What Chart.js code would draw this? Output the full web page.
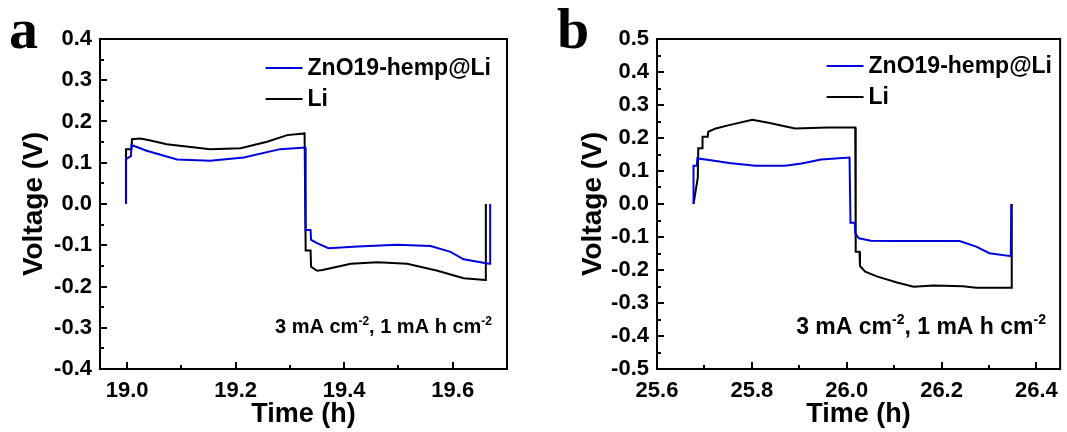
<!DOCTYPE html>
<html>
<head>
<meta charset="utf-8">
<script src="https://cdn.jsdelivr.net/npm/chart.js"></script>
<style>
  body { margin: 0; background: #fff; width: 1067px; height: 432px; position: relative; overflow: hidden; }
  canvas { position: absolute; top: 0; }
</style>
</head>
<body>
<canvas id="chartA" width="530" height="432" style="left:0px"></canvas>
<canvas id="chartB" width="532" height="432" style="left:535px"></canvas>
<script>
// series names
var seriesNames = ['ZnO19-hemp@Li', 'Li'];
var seriesColors = ['#0000dd', '#000000'];

// panel a - ZnO19-hemp@Li
var timeBlueA = [18.998, 18.998, 19.007, 19.008, 19.036, 19.092, 19.153, 19.215, 19.282, 19.328, 19.329, 19.338, 19.339, 19.350, 19.371, 19.425, 19.498, 19.559, 19.596, 19.620, 19.667, 19.669, 19.669];
var voltBlueA = [0.000, 0.109, 0.116, 0.143, 0.129, 0.108, 0.105, 0.113, 0.133, 0.137, -0.063, -0.063, -0.087, -0.095, -0.107, -0.103, -0.099, -0.102, -0.116, -0.134, -0.145, -0.145, 0.000];
// panel a - Li
var timeBlackA = [18.998, 18.998, 19.008, 19.009, 19.024, 19.039, 19.073, 19.153, 19.209, 19.258, 19.295, 19.327, 19.329, 19.338, 19.339, 19.350, 19.360, 19.412, 19.461, 19.516, 19.572, 19.620, 19.660, 19.661, 19.661];
var voltBlackA = [0.000, 0.133, 0.133, 0.157, 0.159, 0.155, 0.145, 0.133, 0.135, 0.151, 0.167, 0.171, -0.113, -0.113, -0.152, -0.162, -0.160, -0.145, -0.141, -0.145, -0.162, -0.180, -0.184, -0.184, 0.000];

// panel b - ZnO19-hemp@Li
var timeBlueB = [25.677, 25.677, 25.684, 25.685, 25.710, 25.752, 25.808, 25.870, 25.905, 25.946, 26.006, 26.008, 26.017, 26.018, 26.026, 26.051, 26.100, 26.238, 26.273, 26.301, 26.346, 26.347];
var voltBlueB = [0.000, 0.116, 0.116, 0.138, 0.133, 0.124, 0.116, 0.116, 0.123, 0.135, 0.141, -0.057, -0.057, -0.089, -0.104, -0.111, -0.112, -0.112, -0.129, -0.149, -0.158, 0.000];
// panel b - Li
var timeBlackB = [25.677, 25.686, 25.687, 25.695, 25.696, 25.707, 25.708, 25.724, 25.752, 25.801, 25.835, 25.891, 25.960, 26.018, 26.019, 26.027, 26.028, 26.039, 26.065, 26.106, 26.141, 26.183, 26.245, 26.273, 26.347, 26.348];
var voltBlackB = [0.000, 0.080, 0.169, 0.169, 0.204, 0.204, 0.219, 0.229, 0.239, 0.255, 0.246, 0.229, 0.232, 0.232, -0.145, -0.145, -0.188, -0.205, -0.220, -0.238, -0.251, -0.247, -0.249, -0.254, -0.254, 0.000];

// tick values
var ticksXA = [19.0, 19.2, 19.4, 19.6];
var ticksYA = [-0.4, -0.3, -0.2, -0.1, 0.0, 0.1, 0.2, 0.3, 0.4];
var ticksXB = [25.6, 25.8, 26.0, 26.2, 26.4];
var ticksYB = [-0.5, -0.4, -0.3, -0.2, -0.1, 0.0, 0.1, 0.2, 0.3, 0.4, 0.5];

var note = [['3 mA cm', false], ['-2', true], [', 1 mA h cm', false], ['-2', true]];
var FONT = '"Liberation Sans", Arial, sans-serif';

function minors(major, min, max) {
  var out = [];
  var step = major[1] - major[0];
  var all = [major[0] - step].concat(major).concat([major[major.length - 1] + step]);
  for (var i = 0; i < all.length - 1; i++) {
    var m = (all[i] + all[i + 1]) / 2;
    if (m > min + 1e-9 && m < max - 1e-9) out.push(m);
  }
  return out;
}

var decor = {
  id: 'decor',
  afterDraw: function(chart) {
    var o = chart.options.plugins.decor;
    var ctx = chart.ctx, a = chart.chartArea;
    var xs = chart.scales.x, ys = chart.scales.y;
    ctx.save();
    ctx.strokeStyle = '#000';
    ctx.lineWidth = 2;
    ctx.strokeRect(a.left, a.top, a.right - a.left, a.bottom - a.top);
    ctx.beginPath();
    o.xTicks.forEach(function(v) { var p = Math.round(xs.getPixelForValue(v)); ctx.moveTo(p, a.bottom); ctx.lineTo(p, a.bottom - 7); });
    minors(o.xTicks, xs.min, xs.max).forEach(function(v) { var p = Math.round(xs.getPixelForValue(v)); ctx.moveTo(p, a.bottom); ctx.lineTo(p, a.bottom - 4); });
    o.yTicks.forEach(function(v) { var p = Math.round(ys.getPixelForValue(v)); ctx.moveTo(a.left, p); ctx.lineTo(a.left + 7, p); });
    minors(o.yTicks, ys.min, ys.max).forEach(function(v) { var p = Math.round(ys.getPixelForValue(v)); ctx.moveTo(a.left, p); ctx.lineTo(a.left + 4, p); });
    ctx.stroke();

    // legend
    ctx.font = 'bold 23px ' + FONT;
    var tw = ctx.measureText(seriesNames[0]).width;
    var tx = o.legendEnd - tw;
    ctx.textBaseline = 'middle';
    ctx.textAlign = 'left';
    [o.legendY, o.legendY + 31].forEach(function(y, i) {
      ctx.strokeStyle = seriesColors[i];
      ctx.beginPath(); ctx.moveTo(tx - 42, y); ctx.lineTo(tx - 5, y); ctx.stroke();
      ctx.fillStyle = '#000';
      ctx.fillText(seriesNames[i], tx, y + 1);
    });

    // condition note
    ctx.textBaseline = 'alphabetic';
    var big = o.noteSize, small = Math.round(o.noteSize * 0.62);
    var widths = note.map(function(p) { ctx.font = 'bold ' + (p[1] ? small : big) + 'px ' + FONT; return ctx.measureText(p[0]).width; });
    var total = widths.reduce(function(s, w) { return s + w; }, 0);
    var x = o.noteEnd - total;
    note.forEach(function(p, i) {
      ctx.font = 'bold ' + (p[1] ? small : big) + 'px ' + FONT;
      ctx.fillText(p[0], x, p[1] ? o.noteY - Math.round(big * 0.42) : o.noteY);
      x += widths[i];
    });

    // panel letter
    ctx.font = 'bold 58px "Liberation Serif", "Times New Roman", serif';
    ctx.fillText(o.letter, o.letterX, 48);
    ctx.restore();
  }
};

function buildChart(id, panel) {
  var datasets = panel.series.map(function(s, k) {
    return {
      label: seriesNames[k],
      data: s.t.map(function(t, i) { return { x: t, y: s.v[i] }; }),
      borderColor: seriesColors[k],
      borderWidth: 2,
      pointRadius: 0,
      fill: false,
      tension: 0
    };
  });
  return new Chart(document.getElementById(id), {
    type: 'line',
    data: { datasets: datasets },
    options: {
      responsive: false,
      animation: false,
      layout: { padding: { left: 0, top: 39, right: panel.padRight, bottom: 0 } },
      plugins: {
        legend: { display: false },
        tooltip: { enabled: false },
        decor: panel.decor
      },
      scales: {
        x: {
          type: 'linear',
          min: panel.xMin, max: panel.xMax,
          grid: { display: false, drawTicks: false },
          border: { display: false },
          afterBuildTicks: function(sc) { sc.ticks = panel.decor.xTicks.map(function(v) { return { value: v }; }); },
          afterFit: function(sc) { sc.height = 63; },
          ticks: {
            color: '#000', padding: 9, maxRotation: 0, autoSkip: false,
            font: { family: FONT, size: 22, weight: 'bold' },
            callback: function(v) { return v.toFixed(1); }
          },
          title: { display: true, text: 'Time (h)', color: '#000', padding: { top: 0, bottom: 1 }, font: { family: FONT, size: 27, weight: 'bold' } }
        },
        y: {
          min: panel.yMin, max: panel.yMax,
          grid: { display: false, drawTicks: false },
          border: { display: false },
          afterBuildTicks: function(sc) { sc.ticks = panel.decor.yTicks.map(function(v) { return { value: v }; }); },
          afterFit: function(sc) { sc.width = panel.yWidth; },
          ticks: {
            color: '#000', padding: 8, autoSkip: false,
            font: { family: FONT, size: 22, weight: 'bold' },
            callback: function(v) { return (Math.abs(v) < 1e-9 ? 0 : v).toFixed(1); }
          },
          title: { display: true, text: 'Voltage (V)', color: '#000', padding: { top: panel.yTitlePad, bottom: 0 }, font: { family: FONT, size: 28, weight: 'bold' } }
        }
      }
    },
    plugins: [decor]
  });
}

buildChart('chartA', {
  series: [{ t: timeBlueA, v: voltBlueA }, { t: timeBlackA, v: voltBlackA }],
  xMin: 18.95, xMax: 19.70, yMin: -0.4, yMax: 0.4,
  padRight: 23, yWidth: 100, yTitlePad: 17,
  decor: { xTicks: ticksXA, yTicks: ticksYA, legendEnd: 491, legendY: 68, noteEnd: 492, noteY: 333, noteSize: 20, letter: 'a', letterX: 9 }
});

buildChart('chartB', {
  series: [{ t: timeBlueB, v: voltBlueB }, { t: timeBlackB, v: voltBlackB }],
  xMin: 25.6, xMax: 26.45, yMin: -0.5, yMax: 0.5,
  padRight: 3, yWidth: 122, yTitlePad: 41,
  decor: { xTicks: ticksXB, yTicks: ticksYB, legendEnd: 517, legendY: 66, noteEnd: 511, noteY: 334, noteSize: 23, letter: 'b', letterX: 22 }
});
</script>
</body>
</html>
